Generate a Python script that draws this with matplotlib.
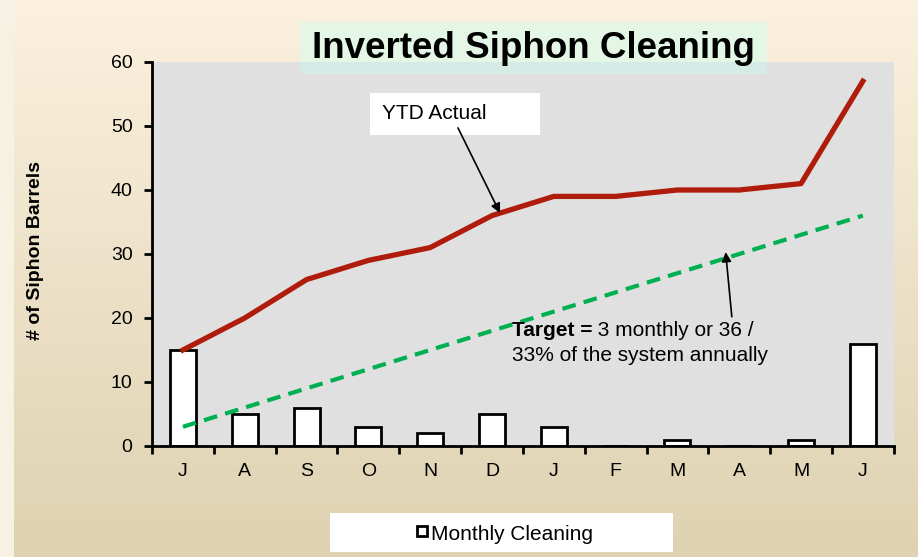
import numpy as np
import matplotlib.pyplot as plt
from matplotlib.patches import Rectangle

plt.rcParams['font.family'] = ['Liberation Sans', 'DejaVu Sans']

# 데이터
months = ['J', 'A', 'S', 'O', 'N', 'D', 'J', 'F', 'M', 'A', 'M', 'J']
monthly = [15, 5, 6, 3, 2, 5, 3, 0, 1, 0, 1, 16]
ytd_actual = [15, 20, 26, 29, 31, 36, 39, 39, 40, 40, 41, 57]
target = [3, 6, 9, 12, 15, 18, 21, 24, 27, 30, 33, 36]

fig = plt.figure(figsize=(9.18, 5.57), dpi=100)

# 배경 그라데이션
bg = fig.add_axes([0, 0, 1, 1], zorder=-10)
grad = np.linspace(0, 1, 256).reshape(-1, 1)
top = np.array([251, 241, 222]) / 255
bot = np.array([222, 210, 178]) / 255
img = top * (1 - grad[..., None]) + bot * grad[..., None]
img = np.repeat(img, 2, axis=1)
bg.imshow(img, aspect='auto', extent=[0, 1, 0, 1])
bg.add_patch(Rectangle((0, 0), 14 / 918, 1, fc='#f6f1e3', ec='none'))
bg.set_xlim(0, 1)
bg.set_ylim(0, 1)
bg.axis('off')

ax = fig.add_axes([0.1656, 0.1993, 0.808, 0.6894])
ax.set_facecolor('#e0e0e0')
x = np.arange(len(months))

ax.bar(x, monthly, width=0.42, color='white', edgecolor='black', linewidth=2,
       zorder=2)
ax.plot(x, ytd_actual, color='#b01c0c', lw=3.8, zorder=3)
ax.plot(x, target, color='#00b050', lw=3, ls=(0, (3.3, 2)), zorder=3)

ax.set_xlim(-0.5, len(months) - 0.5)
ax.set_ylim(0, 60)
ax.set_yticks(range(0, 61, 10))
ax.set_xticks(x)
ax.set_xticklabels(months)
ax.set_xticks(np.arange(-0.5, len(months)), minor=True)
ax.tick_params(axis='x', which='major', length=0, pad=12, labelsize=14)
ax.tick_params(axis='x', which='minor', length=6, width=2, direction='out')
ax.tick_params(axis='y', length=6, width=2, direction='out', labelsize=14, pad=8)
for s in ['top', 'right']:
    ax.spines[s].set_visible(False)
for s in ['left', 'bottom']:
    ax.spines[s].set_linewidth(2)
ax.set_ylabel('# of Siphon Barrels', fontsize=14, fontweight='bold')
ax.yaxis.set_label_coords(-0.145, 0.51)

# YTD Actual 설명
ax.add_patch(Rectangle((3.03, 48.6), 2.75, 6.6, fc='white', ec='none', zorder=5))
ax.text(3.22, 52.0, 'YTD Actual', fontsize=15, ha='left', va='center', zorder=6)
ax.annotate('', xy=(5.13, 36.4), xytext=(4.45, 49.7),
            arrowprops=dict(arrowstyle='-|>', color='black', lw=1.2,
                            mutation_scale=14, shrinkA=0, shrinkB=0),
            zorder=6)

# Target 설명
ax.annotate('', xy=(8.78, 30.3), xytext=(8.88, 20.2),
            arrowprops=dict(arrowstyle='-|>', color='black', lw=1.2,
                            mutation_scale=14, shrinkA=0, shrinkB=0),
            zorder=5)
t1 = ax.text(5.32, 18.1, 'Target =', fontsize=15, fontweight='bold',
             va='center', ha='left', zorder=5)
ax.annotate(' 3 monthly or 36 /', xycoords=t1, xy=(1, 0.5), va='center',
            ha='left', fontsize=15, zorder=5)
ax.text(5.32, 14.2, '33% of the system annually', fontsize=15, va='center',
        ha='left', zorder=5)

# 제목 상자
fig.patches.append(Rectangle((300 / 918, 1 - 62 / 557), 467 / 918, 40 / 557,
                             transform=fig.transFigure, fc='#e4f6e5', ec='none',
                             zorder=1))
fig.patches.append(Rectangle((300 / 918, 1 - 74 / 557), 467 / 918, 12 / 557,
                             transform=fig.transFigure, fc='#d5ece6', ec='none',
                             zorder=5))
fig.text(533 / 918, 1 - 48 / 557, 'Inverted Siphon Cleaning', fontsize=26.5,
         fontweight='bold', ha='center', va='center', zorder=6)

# 범례
fig.patches.append(Rectangle((330 / 918, 1 - 552 / 557), 343 / 918, 39 / 557,
                             transform=fig.transFigure, fc='white', ec='none'))
fig.patches.append(Rectangle((417 / 918, 1 - 536 / 557), 10 / 918, 10 / 557,
                             transform=fig.transFigure, fc='white', ec='black',
                             lw=2))
fig.text(431 / 918, 1 - 534 / 557, 'Monthly Cleaning', fontsize=15,
         ha='left', va='center')

fig.savefig('out.png', dpi=100)
